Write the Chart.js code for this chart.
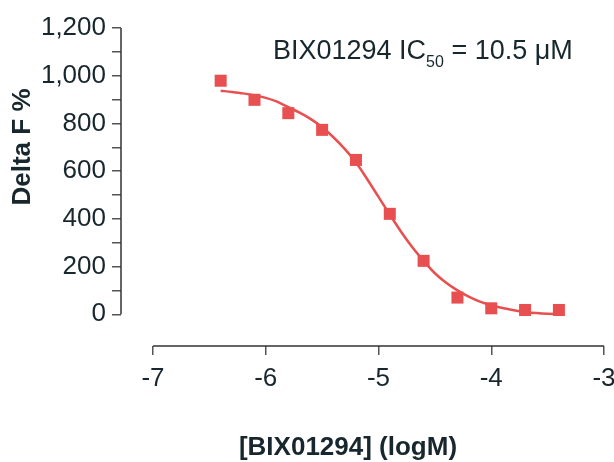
<!DOCTYPE html>
<html>
<head>
<meta charset="utf-8">
<script src="https://cdn.jsdelivr.net/npm/chart.js@4/dist/chart.umd.min.js"></script>
<style>
  html, body { margin: 0; padding: 0; background: #fff; }
  #wrap { width: 614px; height: 462px; }
</style>
</head>
<body>
<div id="wrap"><canvas id="chart" width="614" height="462"></canvas></div>
<script>
// measured points
var logConc = [-6.4, -6.1, -5.8, -5.5, -5.2, -4.9, -4.6, -4.3, -4.0, -3.7, -3.4];
var deltaF = [979, 899, 843, 773, 647, 421, 224, 70, 25, 18, 18];

// fitted curve
var curveX = [-6.4, -6.3, -6.2, -6.1, -6.0, -5.9, -5.8, -5.7, -5.6, -5.5, -5.4, -5.3, -5.2, -5.1, -5.0, -4.9,
  -4.8, -4.7, -4.6, -4.5, -4.4, -4.3, -4.2, -4.1, -4.0, -3.9, -3.8, -3.7, -3.6, -3.5, -3.4];
var curveY = [937, 932, 926, 918, 907, 891, 868, 845, 818, 784, 742, 693, 636, 566, 492, 418,
  346, 281, 224, 172, 132, 100, 74, 53, 38, 26, 17, 10, 5, 2, 1];

var xTicks = [-7, -6, -5, -4, -3];
var yTicks = [0, 100, 200, 300, 400, 500, 600, 700, 800, 900, 1000, 1100, 1200];

var red = '#e84f50';
var ink = '#17272d';
var font = 'Arial, "Liberation Sans", sans-serif';

function pairs(xs, ys) {
  return xs.map(function (x, i) { return { x: x, y: ys[i] }; });
}

// axis lines, titles and the IC50 note
var extras = {
  id: 'extras',
  afterDraw: function (chart) {
    var ctx = chart.ctx;
    var xs = chart.scales.x, ys = chart.scales.y;
    var area = chart.chartArea;
    ctx.save();
    ctx.strokeStyle = '#333';
    ctx.lineWidth = 1.5;
    ctx.beginPath();
    ctx.moveTo(area.left, ys.getPixelForValue(yTicks[0]));
    ctx.lineTo(area.left, ys.getPixelForValue(yTicks[yTicks.length - 1]));
    ctx.moveTo(xs.getPixelForValue(xTicks[0]), area.bottom);
    ctx.lineTo(xs.getPixelForValue(xTicks[xTicks.length - 1]), area.bottom);
    ctx.stroke();

    ctx.fillStyle = ink;
    ctx.font = 'bold 26px ' + font;
    ctx.textAlign = 'center';
    ctx.textBaseline = 'middle';
    ctx.fillText('[BIX01294] (logM)', 348, 448);

    ctx.save();
    ctx.translate(23, 147);
    ctx.rotate(-Math.PI / 2);
    ctx.fillText('Delta F %', 0, 0);
    ctx.restore();

    ctx.textAlign = 'left';
    ctx.textBaseline = 'alphabetic';
    var x = 273, base = 59;
    ctx.font = '27px ' + font;
    var a = 'BIX01294 IC';
    ctx.fillText(a, x, base);
    x += ctx.measureText(a).width;
    ctx.font = '16px ' + font;
    ctx.fillText('50', x, base + 8);
    x += ctx.measureText('50').width;
    ctx.font = '27px ' + font;
    ctx.fillText(' = 10.5 \u03bcM', x, base);
    ctx.restore();
  }
};

var ctx = document.getElementById('chart');
var myChart = new Chart(ctx, {
  type: 'scatter',
  data: {
    datasets: [{
      type: 'scatter',
      label: 'BIX01294',
      data: pairs(logConc, deltaF),
      pointStyle: 'rect',
      pointRadius: 8.5,
      pointHoverRadius: 8.5,
      backgroundColor: red,
      borderWidth: 0
    }, {
      type: 'line',
      label: 'fit',
      data: pairs(curveX, curveY),
      borderColor: red,
      borderWidth: 2.5,
      pointRadius: 0,
      cubicInterpolationMode: 'monotone',
      fill: false
    }]
  },
  options: {
    responsive: false,
    animation: false,
    layout: { padding: { top: 28, right: 10, left: 0, bottom: 0 } },
    plugins: { legend: { display: false }, tooltip: { enabled: false } },
    scales: {
      x: {
        type: 'linear',
        min: -7.284,
        max: -3,
        afterBuildTicks: function (s) { s.ticks = xTicks.map(function (v) { return { value: v }; }); },
        afterFit: function (s) { s.height = 116; s.paddingLeft = 0; s.paddingRight = 0; },
        border: { display: false },
        grid: { drawOnChartArea: false, drawTicks: true, tickLength: 9, color: '#555', lineWidth: 1.5 },
        ticks: {
          autoSkip: false, maxRotation: 0, padding: 8, color: ink,
          font: { family: font, size: 26 },
          callback: function (v) { return v; }
        }
      },
      y: {
        min: -133,
        max: 1200,
        afterBuildTicks: function (s) { s.ticks = yTicks.map(function (v) { return { value: v }; }); },
        afterFit: function (s) { s.width = 121; s.paddingTop = 0; s.paddingBottom = 0; },
        border: { display: false },
        grid: { drawOnChartArea: false, drawTicks: true, tickLength: 9, color: '#555', lineWidth: 1.5 },
        ticks: {
          autoSkip: false, padding: 6, color: ink,
          font: { family: font, size: 26 },
          callback: function (v) { return v % 200 === 0 ? v.toLocaleString('en-US') : ''; }
        }
      }
    }
  },
  plugins: [extras]
});
</script>
</body>
</html>
